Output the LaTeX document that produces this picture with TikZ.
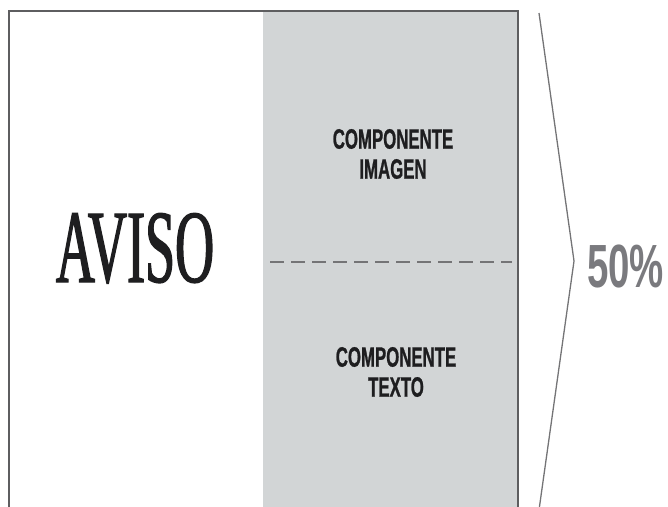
\documentclass[tikz,border=0pt]{standalone}
\usepackage{fontspec}
\newfontfamily\compfont{Liberation Sans}[FakeStretch=0.6, FakeBold=0.8]
\newfontfamily\avisofont{Liberation Serif}[FakeStretch=0.52, FakeBold=1.2]
\newfontfamily\pctfont{Liberation Sans}[FakeStretch=0.63]
\definecolor{panelgray}{HTML}{D2D5D6}
\definecolor{edgegray}{HTML}{5E5E60}
\definecolor{linegray}{HTML}{747476}
\definecolor{pctgray}{HTML}{7A7A7E}
\definecolor{textdark}{HTML}{1E1E20}
\tikzset{
  comptext/.style={font=\compfont\bfseries\fontsize{28}{30}\selectfont, text=textdark, align=center, inner sep=0pt},
  frameline/.style={draw=edgegray, line width=2pt},
  divider/.style={draw=linegray, line width=2.2pt, dash pattern=on 14pt off 7pt},
  bracketline/.style={draw=linegray, line width=1.3pt, line join=miter}
}
\begin{document}
\begin{tikzpicture}[x=1pt,y=-1pt]
\useasboundingbox (0,0) rectangle (668,506);
\clip (0,0) rectangle (668,506);
% gray panel
\fill[panelgray] (263,11) rectangle (518,530);
% frame (no bottom edge visible)
\draw[frameline] (9,530) -- (9,11) -- (518,11) -- (518,530);
% dashed divider
\coordinate (dl) at (270,262);
\coordinate (dr) at (512,262);
\draw[divider] (dl) -- (dr);
% texts
\node[inner sep=0pt, anchor=base, font=\avisofont\fontsize{104}{110}\selectfont, text=textdark] (aviso) at (135,282) {AVISO};
\node[comptext] (imagen) at (393,154) {COMPONENTE\\IMAGEN};
\node[comptext] (texto) at (396,372) {COMPONENTE\\TEXTO};
\node[inner sep=0pt, anchor=base, font=\pctfont\bfseries\fontsize{61}{64}\selectfont, text=pctgray] (pct) at (625.5,287) {50\%};
% bracket
\coordinate (bt) at (539,13);
\coordinate (tip) at (574,261);
\coordinate (bb) at (539,510);
\draw[bracketline] (bt) -- (tip) -- (bb);
\end{tikzpicture}
\end{document}
